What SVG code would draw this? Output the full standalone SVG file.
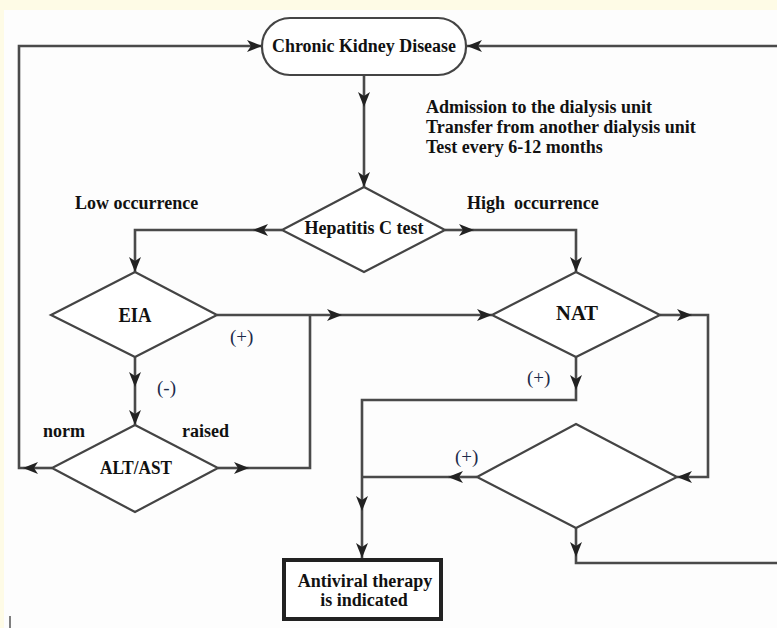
<svg xmlns="http://www.w3.org/2000/svg" width="777" height="628" viewBox="0 0 777 628">
<style>
.bg{fill:#fefbe6}
.node{fill:#ffffff;stroke:#444;stroke-width:2.2}
.box{fill:#ffffff;stroke:#222;stroke-width:4}
.conn{fill:none;stroke:#4a4a4a;stroke-width:2.6}
.t{font-family:"Liberation Serif","Times New Roman",serif;font-weight:bold;font-size:18px;fill:#111}
.c{text-anchor:middle}
.sign{font-family:"Liberation Serif","Times New Roman",serif;font-size:19px;fill:#1c2a4a}
</style>
<defs>
<marker id="ah" markerUnits="userSpaceOnUse" markerWidth="16" markerHeight="12" viewBox="0 0 16 12" refX="15" refY="6" orient="auto">
<path d="M0,0 L15,6 L0,12 L4,6 z" fill="#222"/>
</marker>
</defs>
<rect class="bg" x="0" y="0" width="777" height="628"/>
<rect x="4" y="10" width="773" height="618" fill="#fdfdfd"/>
<line x1="10" y1="616" x2="10" y2="628" stroke="#555" stroke-width="1.5"/>

<g id="connectors">
<path class="conn" marker-end="url(#ah)" d="M52,468 H23"/>
<path class="conn" marker-end="url(#ah)" d="M23,468 H19 V46 H262"/>
<path class="conn" marker-end="url(#ah)" d="M777,46 H467"/>
<path class="conn" marker-end="url(#ah)" d="M364,75 V107"/>
<path class="conn" marker-end="url(#ah)" d="M364,107 V187"/>
<path class="conn" marker-end="url(#ah)" d="M282,230 H253"/>
<path class="conn" marker-end="url(#ah)" d="M253,230 H135 V272"/>
<path class="conn" marker-end="url(#ah)" d="M445,230 H474"/>
<path class="conn" marker-end="url(#ah)" d="M474,230 H576 V272"/>
<path class="conn" marker-end="url(#ah)" d="M217,315 H342"/>
<path class="conn" marker-end="url(#ah)" d="M342,315 H492"/>
<path class="conn" marker-end="url(#ah)" d="M218,468 H249"/>
<path class="conn" d="M249,468 H310 V315"/>
<path class="conn" marker-end="url(#ah)" d="M135,357 V387"/>
<path class="conn" marker-end="url(#ah)" d="M135,387 V425"/>
<path class="conn" marker-end="url(#ah)" d="M660,315 H692"/>
<path class="conn" marker-end="url(#ah)" d="M692,315 H708 V477 H677"/>
<path class="conn" marker-end="url(#ah)" d="M576,357 V390"/>
<path class="conn" marker-end="url(#ah)" d="M576,390 V400 H362 V511"/>
<path class="conn" marker-end="url(#ah)" d="M362,511 V558"/>
<path class="conn" marker-end="url(#ah)" d="M477,477 H448"/>
<path class="conn" d="M448,477 H362"/>
<path class="conn" marker-end="url(#ah)" d="M576,528 V557"/>
<path class="conn" d="M576,557 V563 H777"/>
</g>

<g id="ckd">
<rect class="node" x="262" y="18" width="204" height="57" rx="28" ry="28"/>
<text class="t c" x="364" y="52" textLength="184" lengthAdjust="spacingAndGlyphs">Chronic Kidney Disease</text>
</g>

<g id="admission-note">
<text class="t" x="426" y="113">Admission to the dialysis unit</text>
<text class="t" x="426" y="133">Transfer from another dialysis unit</text>
<text class="t" x="426" y="153">Test every 6-12 months</text>
</g>

<g id="hepc">
<polygon class="node" points="364,187 445,230 364,272 282,230"/>
<text class="t c" x="364" y="234">Hepatitis C test</text>
</g>
<text class="t" x="75" y="209">Low occurrence</text>
<text class="t" x="467" y="209">High&#160; occurrence</text>

<g id="eia">
<polygon class="node" points="135,272 217,315 135,357 51,315"/>
<text class="t c" x="135" y="322" style="font-size:20px" textLength="33" lengthAdjust="spacingAndGlyphs">EIA</text>
</g>
<text class="sign" x="230" y="343">(+)</text>
<text class="sign" x="157" y="394">(-)</text>

<g id="nat">
<polygon class="node" points="576,272 660,315 576,357 492,315"/>
<text class="t c" x="577" y="320" style="font-size:20px" textLength="42" lengthAdjust="spacingAndGlyphs">NAT</text>
</g>
<text class="sign" x="527" y="384">(+)</text>

<g id="altast">
<polygon class="node" points="135,425 218,468 135,512 52,468"/>
<text class="t c" x="136" y="474" style="font-size:19px" textLength="72" lengthAdjust="spacingAndGlyphs">ALT/AST</text>
</g>
<text class="t" x="43" y="437">norm</text>
<text class="t" x="182" y="437">raised</text>

<g id="decision2">
<polygon class="node" points="576,424 677,477 576,528 477,477"/>
</g>
<text class="sign" x="455" y="463">(+)</text>

<g id="antiviral">
<rect class="box" x="284" y="560" width="157" height="59"/>
<text class="t c" x="365" y="587">Antiviral therapy</text>
<text class="t c" x="364" y="606">is indicated</text>
</g>
</svg>
